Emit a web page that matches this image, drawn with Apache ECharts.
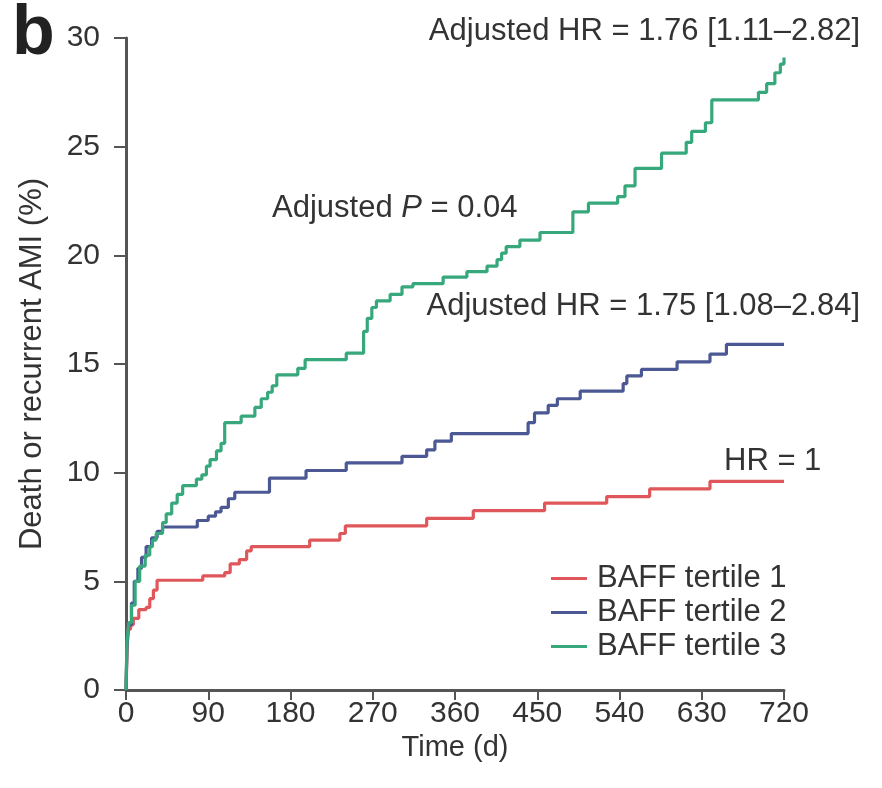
<!DOCTYPE html>
<html>
<head>
<meta charset="utf-8">
<script src="https://cdn.jsdelivr.net/npm/echarts@6/dist/echarts.min.js"></script>
<style>
  html, body { margin: 0; padding: 0; background: #fff; }
  #chart { width: 882px; height: 788px; }
</style>
</head>
<body>
<div id="chart"></div>
<script>
// ---- data: [day, cumulative %]
const xTicks = [0, 90, 180, 270, 360, 450, 540, 630, 720];
const yTicks = [0, 5, 10, 15, 20, 25, 30];
const seriesNames = ['BAFF tertile 1', 'BAFF tertile 2', 'BAFF tertile 3'];

const tertile1 = [
    [0, 0], [1, 1.5], [2, 2.8], [5, 3.0], [8, 3.3], [14, 3.7], [22, 3.8], [26, 4.2],
    [30, 4.6], [34, 5.05], [84, 5.25], [108, 5.4], [114, 5.8], [124, 6.0], [132, 6.4],
    [137, 6.6], [201, 6.9], [234, 7.2], [240, 7.55], [329, 7.9], [380, 8.25],
    [458, 8.6], [526, 8.9], [573, 9.25], [639, 9.6], [720, 9.6]
];
const tertile2 = [
    [0, 0], [1, 2.0], [3, 3.0], [6, 4.0], [9, 5.0], [13, 5.6], [17, 6.1], [22, 6.6],
    [28, 7.0], [34, 7.3], [40, 7.5], [78, 7.8], [90, 8.0], [98, 8.2], [104, 8.4],
    [112, 8.8], [119, 9.1], [157, 9.75], [197, 10.1], [241, 10.45], [302, 10.75],
    [329, 11.05], [338, 11.45], [356, 11.8], [440, 12.3], [447, 12.75], [462, 13.1],
    [472, 13.4], [497, 13.75], [544, 14.1], [548, 14.45], [564, 14.75], [603, 15.1],
    [639, 15.45], [657, 15.9], [720, 15.9]
];
const tertile3 = [
    [0, 0], [1, 2.2], [3, 3.1], [6, 3.9], [10, 5.0], [15, 5.7], [21, 6.2], [26, 6.6],
    [29, 6.9], [33, 7.2], [40, 7.7], [44, 8.1], [50, 8.6], [56, 9.0], [62, 9.4],
    [77, 9.7], [83, 9.9], [88, 10.3], [92, 10.6], [99, 11.0], [104, 11.35], [108, 12.3],
    [126, 12.6], [141, 13.0], [148, 13.4], [155, 13.7], [160, 14.0], [165, 14.5],
    [188, 14.8], [196, 15.2], [241, 15.5], [260, 16.5], [264, 17.1], [269, 17.6],
    [274, 17.9], [289, 18.2], [302, 18.55], [314, 18.7], [347, 19.0], [373, 19.25],
    [395, 19.5], [406, 19.8], [411, 20.1], [416, 20.4], [431, 20.7], [453, 21.05],
    [489, 22.0], [506, 22.4], [538, 22.7], [546, 23.2], [557, 24.0], [586, 24.7],
    [613, 25.2], [619, 25.7], [634, 26.1], [641, 27.15], [692, 27.5], [701, 27.9],
    [710, 28.4], [716, 28.8], [720, 29.1]
];

const colors = ['#e0575b', '#4b5894', '#36a87b'];
const font = "'Liberation Sans', Arial, sans-serif";
const txt = '#333';

var chart = echarts.init(document.getElementById('chart'));

function kmSeries(name, data, color) {
    return {
        name: name,
        type: 'line',
        step: 'end',
        data: data,
        showSymbol: false,
        symbol: 'none',
        lineStyle: { color: color, width: 3.2 },
        itemStyle: { color: color },
        animation: false
    };
}

option = {
    animation: false,
    backgroundColor: '#fff',
    textStyle: { fontFamily: font },
    grid: { left: 126, right: 98, top: 38, bottom: 98 },
    xAxis: {
        type: 'value',
        min: xTicks[0],
        max: xTicks[xTicks.length - 1],
        interval: 90,
        name: 'Time (d)',
        nameLocation: 'middle',
        nameGap: 41,
        nameTextStyle: { fontSize: 29, color: txt, fontFamily: font },
        splitLine: { show: false },
        axisLine: { lineStyle: { color: '#555', width: 3 } },
        axisTick: { inside: false, length: 10, lineStyle: { color: '#555', width: 2 } },
        axisLabel: { fontSize: 30, color: txt, margin: 9, fontFamily: font }
    },
    yAxis: {
        type: 'value',
        min: yTicks[0],
        max: yTicks[yTicks.length - 1],
        interval: 5,
        name: 'Death or recurrent AMI (%)',
        nameLocation: 'middle',
        nameGap: 78,
        nameTextStyle: { fontSize: 31, color: txt, fontFamily: font },
        splitLine: { show: false },
        axisLine: { show: true, lineStyle: { color: '#555', width: 3 } },
        axisTick: { show: true, inside: false, length: 12, lineStyle: { color: '#555', width: 2 } },
        axisLabel: { fontSize: 30, color: txt, margin: 26, fontFamily: font }
    },
    legend: {
        orient: 'vertical',
        left: 546,
        top: 558,
        itemWidth: 36,
        itemHeight: 3,
        itemGap: 3,
        icon: 'rect',
        data: seriesNames,
        textStyle: { fontSize: 31, color: txt, fontFamily: font, padding: [0, 0, 0, 5] }
    },
    graphic: [
        { type: 'text', left: 12, top: 0, style: { text: 'b', font: 'bold 70px ' + font, fill: '#222' } },
        { type: 'text', right: 22, top: 16, style: { text: 'Adjusted HR = 1.76 [1.11\u20132.82]', font: '31px ' + font, fill: txt } },
        { type: 'text', left: 272, top: 193, style: {
            text: '{a|Adjusted }{i|P}{a| = 0.04}',
            rich: {
                a: { fontSize: 31, fontFamily: font, fill: txt, color: txt },
                i: { fontSize: 31, fontFamily: font, fontStyle: 'italic', fill: txt, color: txt }
            }
        } },
        { type: 'text', right: 22, top: 291, style: { text: 'Adjusted HR = 1.75 [1.08\u20132.84]', font: '31px ' + font, fill: txt } },
        { type: 'text', left: 724, top: 446, style: { text: 'HR = 1', font: '31px ' + font, fill: txt } }
    ],
    series: [
        kmSeries(seriesNames[0], tertile1, colors[0]),
        kmSeries(seriesNames[1], tertile2, colors[1]),
        kmSeries(seriesNames[2], tertile3, colors[2])
    ]
};
chart.setOption(option);
</script>
</body>
</html>
